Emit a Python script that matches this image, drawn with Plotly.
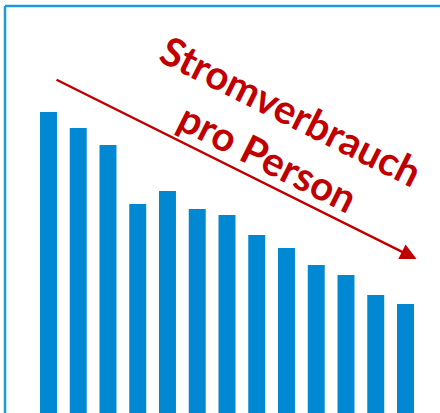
"""Falling power use per person: bar chart with a trend arrow."""

import plotly.graph_objects as go

# one bar per period, oldest first (arbitrary units)
periods = list(range(1, 14))
usage = [301, 285, 268, 209, 222, 204, 198, 178, 165, 148, 138, 118, 109]

label_lines = ["Stromverbrauch", "pro Person"]

BAR_BLUE = "#0089d2"
FRAME_BLUE = "#1c9bd8"
DARK_RED = "#c00000"

x = [p - 1 for p in periods]

fig = go.Figure()
fig.add_trace(go.Bar(x=x, y=usage, width=0.57, marker=dict(color=BAR_BLUE, line_width=0)))

# trend arrow, tail top-left, tip bottom-right
fig.add_annotation(
    x=12.37, y=154, ax=0.22, ay=334,
    xref="x", yref="y", axref="x", ayref="y",
    text="", showarrow=True,
    arrowhead=2, arrowsize=1.3, arrowwidth=2.5, arrowcolor=DARK_RED, standoff=0,
)
fig.add_annotation(
    x=7.75, y=279, xref="x", yref="y",
    text="<br>".join(label_lines), showarrow=False, textangle=26.6,
    font=dict(family="Lato", size=40, color=DARK_RED, weight="bold"),
)

# frame: only left and top edges fall inside the picture
fig.add_shape(type="line", xref="paper", yref="paper", x0=0, x1=1.2, y0=1, y1=1,
              line=dict(color=FRAME_BLUE, width=2.5))
fig.add_shape(type="line", xref="paper", yref="paper", x0=0, x1=0, y0=-0.2, y1=1,
              line=dict(color=FRAME_BLUE, width=2.5))

fig.update_xaxes(range=[-1.462, 13.16], visible=False)
fig.update_yaxes(range=[0, 407], visible=False)
fig.update_layout(
    width=440, height=413,
    margin=dict(l=5, r=0, t=6, b=0),
    showlegend=False,
    plot_bgcolor="white", paper_bgcolor="white",
)
# drop the page's default body margin so the figure sits at the window corner
fig.write_html(
    "out.html",
    config={"displayModeBar": False},
    post_script="document.body.style.margin = '0';",
)
